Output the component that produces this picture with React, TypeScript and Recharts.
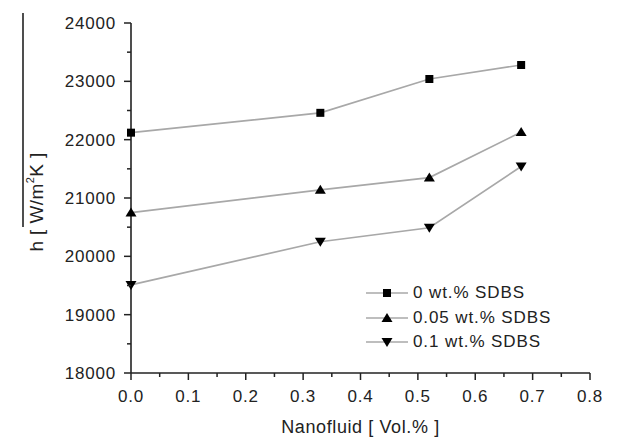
import { LineChart, Line, XAxis, YAxis, Legend } from "recharts";

const volFraction = [0, 0.33, 0.52, 0.68];
const sdbs0 = [22120, 22460, 23040, 23280];
const sdbs005 = [20750, 21140, 21350, 22130];
const sdbs01 = [19510, 20250, 20490, 21540];

const xMajor = [0, 0.1, 0.2, 0.3, 0.4, 0.5, 0.6, 0.7, 0.8];
const xMinor = [0.05, 0.15, 0.25, 0.35, 0.45, 0.55, 0.65, 0.75];
const yMajor = [18000, 19000, 20000, 21000, 22000, 23000, 24000];
const yMinor = [18500, 19500, 20500, 21500, 22500, 23500];

const seriesNames = ["0 wt.% SDBS", "0.05 wt.% SDBS", "0.1 wt.% SDBS"];
const seriesKeys = ["s0", "s005", "s01"];
const seriesShapes = ["square", "up", "down"];

const data = volFraction.map((x, i) => ({
  x,
  s0: sdbs0[i],
  s005: sdbs005[i],
  s01: sdbs01[i],
}));

const FONT = '"Liberation Sans", Arial, sans-serif';
const INK = "#222";
const LINE = "#a8a8a8";

const isMajor = (v: number, list: number[]) => list.some((m) => Math.abs(m - v) < 1e-6);

function Marker({ cx, cy, shape }: { cx: number; cy: number; shape: string }) {
  if (shape === "square") {
    return <rect x={cx - 4} y={cy - 4} width={8} height={8} fill="#000" />;
  }
  if (shape === "up") {
    return <path d={`M${cx},${cy - 5}L${cx + 5.5},${cy + 4}L${cx - 5.5},${cy + 4}Z`} fill="#000" />;
  }
  return <path d={`M${cx},${cy + 5}L${cx + 5.5},${cy - 4}L${cx - 5.5},${cy - 4}Z`} fill="#000" />;
}

const makeDot = (shape: string) => (props: any) => {
  const { cx, cy, index } = props;
  if (cx == null || cy == null) return <g key={index} />;
  return <Marker key={index} cx={cx} cy={cy} shape={shape} />;
};

const BottomTick = ({ x, y, payload }: any) => {
  const major = isMajor(payload.value, xMajor);
  return (
    <g>
      <line x1={x} x2={x} y1={y} y2={y + (major ? 7 : 4)} stroke={INK} strokeWidth={1.5} />
      {major && (
        <text x={x} y={y + 29} textAnchor="middle" fontSize={17} letterSpacing={0.8} fill={INK} fontFamily={FONT}>
          {payload.value.toFixed(1)}
        </text>
      )}
    </g>
  );
};

const TopTick = ({ x, y, payload }: any) => {
  const major = isMajor(payload.value, xMajor);
  return <line x1={x} x2={x} y1={y} y2={y + (major ? 7 : 4)} stroke={INK} strokeWidth={1.5} />;
};

const LeftTick = ({ x, y, payload }: any) => {
  const major = isMajor(payload.value, yMajor);
  return (
    <g>
      <line x1={x} x2={x - (major ? 7 : 4)} y1={y} y2={y} stroke={INK} strokeWidth={1.5} />
      {major && (
        <text x={x - 15} y={y + 6} textAnchor="end" fontSize={17} letterSpacing={0.8} fill={INK} fontFamily={FONT}>
          {payload.value}
        </text>
      )}
    </g>
  );
};

const RightTick = ({ x, y, payload }: any) => {
  const major = isMajor(payload.value, yMajor);
  return <line x1={x} x2={x - (major ? 6 : 4)} y1={y} y2={y} stroke={INK} strokeWidth={1.5} />;
};

const YLabel = ({ viewBox }: any) => {
  const cy = viewBox.y + viewBox.height / 2 + 4;
  const bx = 43;
  return (
    <g>
      <line x1={23} x2={23} y1={viewBox.y - 10} y2={viewBox.y + 204} stroke={INK} strokeWidth={1.6} />
      <text
        x={bx}
        y={cy}
        transform={`rotate(-90 ${bx} ${cy})`}
        textAnchor="middle"
        fontSize={19}
        letterSpacing={0.4}
        fill={INK}
        fontFamily={FONT}
      >
        h [ W/m
        <tspan fontSize={11} dy={-9}>2</tspan>
        <tspan dy={9}>K ]</tspan>
      </text>
    </g>
  );
};

const LegendBox = () => (
  <div style={{ fontFamily: FONT, color: INK }}>
    {seriesNames.map((name, i) => (
      <div key={name} style={{ display: "flex", alignItems: "center", height: 24.5 }}>
        <svg width={44} height={16}>
          <line x1={1} x2={43} y1={8} y2={8} stroke={LINE} strokeWidth={1.6} />
          <Marker cx={22} cy={8} shape={seriesShapes[i]} />
        </svg>
        <span style={{ marginLeft: 4, fontSize: 17, letterSpacing: 0.9, whiteSpace: "nowrap" }}>{name}</span>
      </div>
    ))}
  </div>
);

export default function App() {
  return (
    <div style={{ position: "absolute", left: 0, top: 0, width: 626, height: 442, background: "#fff" }}>
      <LineChart width={626} height={442} data={data} margin={{ top: 23, right: 36, bottom: 0, left: 0 }}>
        <XAxis
          dataKey="x"
          type="number"
          domain={[0, 0.8]}
          ticks={[...xMajor, ...xMinor]}
          interval={0}
          height={69}
          tickSize={0}
          tickMargin={0}
          tickLine={false}
          tick={BottomTick}
          axisLine={{ stroke: INK, strokeWidth: 1.6 }}
          label={{ value: "Nanofluid [ Vol.% ]", position: "insideBottom", offset: 9, fontSize: 18, fill: INK, fontFamily: FONT, letterSpacing: 0.6 }}
        />
        <XAxis
          xAxisId="top"
          orientation="top"
          dataKey="x"
          type="number"
          domain={[0, 0.8]}
          ticks={[...xMajor, ...xMinor]}
          interval={0}
          height={0}
          tickSize={0}
          tickMargin={0}
          tickLine={false}
          tick={TopTick}
          axisLine={{ stroke: INK, strokeWidth: 1.6 }}
        />
        <YAxis
          type="number"
          domain={[18000, 24000]}
          ticks={[...yMajor, ...yMinor]}
          interval={0}
          width={131}
          tickSize={0}
          tickMargin={0}
          tickLine={false}
          tick={LeftTick}
          axisLine={{ stroke: INK, strokeWidth: 1.6 }}
          label={<YLabel />}
        />
        <YAxis
          yAxisId="right"
          orientation="right"
          type="number"
          domain={[18000, 24000]}
          ticks={[...yMajor, ...yMinor]}
          interval={0}
          width={0}
          tickSize={0}
          tickMargin={0}
          tickLine={false}
          tick={RightTick}
          axisLine={{ stroke: INK, strokeWidth: 1.6 }}
        />
        <Legend
          layout="vertical"
          align="center"
          verticalAlign="middle"
          content={<LegendBox />}
          wrapperStyle={{ position: "absolute", left: 365, top: 281, width: 230 }}
        />
        {seriesKeys.map((k, i) => (
          <Line
            key={k}
            dataKey={k}
            name={seriesNames[i]}
            stroke={LINE}
            strokeWidth={1.7}
            dot={makeDot(seriesShapes[i])}
            activeDot={false}
            isAnimationActive={false}
          />
        ))}
      </LineChart>
    </div>
  );
}
